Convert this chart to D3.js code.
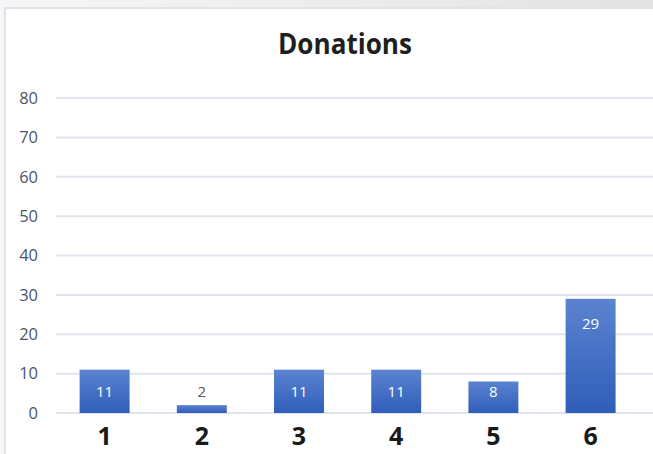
<!DOCTYPE html>
<html>
<head>
<meta charset="utf-8">
<script src="https://cdn.jsdelivr.net/npm/d3@7"></script>
<style>
  html, body { margin: 0; padding: 0; }
  body { width: 653px; height: 454px; overflow: hidden; }
</style>
</head>
<body>
<svg id="chart"></svg>
<script>
// Chart data
const categories = ["1", "2", "3", "4", "5", "6"];
const donations = [11, 2, 11, 11, 8, 29];
const yTicks = [0, 10, 20, 30, 40, 50, 60, 70, 80];
const chartTitle = "Donations";

// Layout
const width = 653, height = 454;
const margin = { top: 98, right: 14, bottom: 41, left: 56 };

const svg = d3.select("#chart")
  .attr("width", width)
  .attr("height", height)
  .style("display", "block");

// page background behind the chart frame
const defs = svg.append("defs");
const bg = defs.append("linearGradient")
  .attr("id", "pageBg").attr("x1", 0).attr("x2", 1).attr("y1", 0).attr("y2", 0);
bg.append("stop").attr("offset", "0%").attr("stop-color", "#f6f6f6");
bg.append("stop").attr("offset", "100%").attr("stop-color", "#e3e3e3");

const barGrad = defs.append("linearGradient")
  .attr("id", "barGrad").attr("x1", 0).attr("x2", 0).attr("y1", 0).attr("y2", 1);
barGrad.append("stop").attr("offset", "0%").attr("stop-color", "#5b83d0");
barGrad.append("stop").attr("offset", "100%").attr("stop-color", "#2f5db9");

svg.append("rect").attr("width", width).attr("height", height).attr("fill", "url(#pageBg)");
svg.append("rect")
  .attr("x", 5).attr("y", 8)
  .attr("width", width).attr("height", height)
  .attr("fill", "#fff")
  .attr("stroke", "#dfe4ec")
  .attr("stroke-width", 2);

// Scales
const x = d3.scaleBand()
  .domain(categories)
  .range([margin.left, margin.left + 6 * 97.2])
  .paddingInner(0.486)
  .paddingOuter(0.243);

const y = d3.scaleLinear()
  .domain([0, 80])
  .range([height - margin.bottom, margin.top]);

// Gridlines
svg.append("g")
  .selectAll("line")
  .data(yTicks)
  .join("line")
  .attr("x1", margin.left)
  .attr("x2", width)
  .attr("y1", d => y(d))
  .attr("y2", d => y(d))
  .attr("stroke", "#e0e4ec")
  .attr("stroke-width", 2);

// Y axis labels
const yAxis = svg.append("g")
  .attr("transform", `translate(${margin.left - 18},0)`)
  .call(d3.axisLeft(y).tickValues(yTicks).tickSize(0).tickPadding(0));
yAxis.select(".domain").remove();
yAxis.selectAll("text")
  .attr("fill", "#4d5669")
  .style("font", "16.5px 'Open Sans', sans-serif");

// X axis labels
const xAxis = svg.append("g")
  .attr("transform", `translate(0,${y(0)})`)
  .call(d3.axisBottom(x).tickSize(0).tickPadding(14));
xAxis.select(".domain").remove();
xAxis.selectAll("text")
  .attr("fill", "#1a1a1a")
  .style("font", "bold 25px 'Open Sans', sans-serif");

// Bars
svg.append("g")
  .selectAll("rect")
  .data(donations)
  .join("rect")
  .attr("x", (d, i) => x(categories[i]))
  .attr("y", d => y(d))
  .attr("width", x.bandwidth())
  .attr("height", d => y(0) - y(d))
  .attr("fill", "url(#barGrad)");

// Data labels
svg.append("g")
  .selectAll("text")
  .data(donations)
  .join("text")
  .attr("x", (d, i) => x(categories[i]) + x.bandwidth() / 2)
  .attr("y", d => Math.min(y(d) + 25, y(0) - 21))
  .attr("dy", "0.35em")
  .attr("text-anchor", "middle")
  .attr("fill", d => (y(0) - y(d) < 20 ? "#595959" : "#ffffff"))
  .style("font", "15px 'Open Sans', sans-serif")
  .text(d => d);

// Title
svg.append("text")
  .attr("x", 345)
  .attr("y", 54)
  .attr("text-anchor", "middle")
  .attr("fill", "#1f1f1f")
  .attr("textLength", 134)
  .attr("lengthAdjust", "spacingAndGlyphs")
  .style("font", "bold 29px 'Open Sans', sans-serif")
  .text(chartTitle);
</script>
</body>
</html>
